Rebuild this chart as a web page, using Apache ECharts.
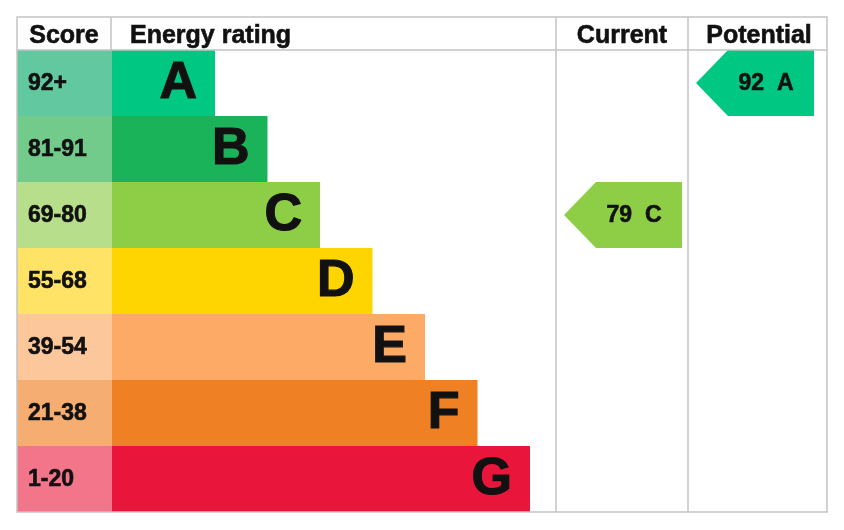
<!DOCTYPE html>
<html>
<head>
<meta charset="utf-8">
<script src="https://cdn.jsdelivr.net/npm/echarts@6/dist/echarts.min.js"></script>
<style>
  html, body { margin: 0; padding: 0; background: #fff; }
  #chart-container { width: 844px; height: 530px; }
</style>
</head>
<body>
<div id="chart-container"></div>
<script>
// EPC bands, top (best) to bottom
var bands = ["A", "B", "C", "D", "E", "F", "G"];
var scoreRanges = ["92+", "81-91", "69-80", "55-68", "39-54", "21-38", "1-20"];
var bandMin = [92, 81, 69, 55, 39, 21, 1];
var headers = ["Score", "Energy rating", "Current", "Potential"];
var currentScore = 79;
var potentialScore = 92;

var barColors = ["#00c781", "#1bb35a", "#8dce46", "#ffd500", "#fcaa65", "#ef8023", "#e9153b"];
var cellColors = ["#62c8a0", "#72cb8b", "#b6de8b", "#ffe367", "#fdc79c", "#f6ad72", "#f3758a"];

var FONT = "'Liberation Sans', Arial, sans-serif";
var LINE = "#c3c3c3";
var INK = "#111";

// layout in grid units (1 unit = 1px here)
var SCORE_W = 95;
var BAR_FIRST = 103;
var BAR_STEP = 52.5;
var columns = [[539, 671], [671, 810]];

function bandOf(score) {
  for (var i = 0; i < bandMin.length; i++) {
    if (score >= bandMin[i]) return i;
  }
  return bandMin.length - 1;
}

function txt(x, y, s, size, align, sw) {
  return {
    x: x, y: y, text: s, fill: INK, font: "bold " + size + "px " + FONT,
    textAlign: align, textVerticalAlign: "middle",
    stroke: INK, lineWidth: sw
  };
}

var dom = document.getElementById("chart-container");
var myChart = echarts.init(dom);

var bandData = bands.map(function (b, i) { return [i, b, scoreRanges[i]]; });
var ratingData = [
  [0, bandOf(currentScore), currentScore, bands[bandOf(currentScore)]],
  [1, bandOf(potentialScore), potentialScore, bands[bandOf(potentialScore)]]
];

function renderBand(params, api) {
  var i = api.value(0);
  var c = api.coord([0, i]);
  var h = api.size([0, 1])[1];
  var y0 = c[1] - h / 2;
  var x0 = c[0];
  var xs = api.coord([SCORE_W, i])[0];
  var xe = api.coord([SCORE_W + BAR_FIRST + BAR_STEP * i, i])[0];
  return {
    type: "group",
    children: [
      { type: "rect", shape: { x: x0, y: y0, width: xs - x0, height: h }, style: { fill: cellColors[i] } },
      { type: "rect", shape: { x: xs, y: y0, width: xe - xs, height: h }, style: { fill: barColors[i] } },
      { type: "text", style: txt(x0 + 11, c[1] + 1, scoreRanges[i], 23, "left", 0.6) },
      { type: "text", style: txt(xe - 18, c[1] + 1, bands[i], 52, "right", 1.2) }
    ]
  };
}

function renderArrow(params, api) {
  var col = columns[api.value(0)];
  var i = api.value(1);
  var c = api.coord([col[0], i]);
  var h = api.size([0, 1])[1];
  var tip = api.coord([col[0] + 8, i])[0];
  var body = tip + h / 2 - 1;
  var right = tip + 118;
  var top = c[1] - h / 2;
  var bot = c[1] + h / 2;
  return {
    type: "group",
    children: [
      { type: "polygon", shape: { points: [[tip, c[1]], [body, top], [right, top], [right, bot], [body, bot]] }, style: { fill: barColors[i] } },
      { type: "text", style: txt(tip + 70, c[1] + 1, api.value(2) + "  " + bands[i], 23, "center", 0.6) }
    ]
  };
}

var L = 17, T = 17, R = 827, B = 512, HB = 50;
function ln(x1, y1, x2, y2) {
  return { type: "line", shape: { x1: x1, y1: y1, x2: x2, y2: y2 }, style: { stroke: LINE, lineWidth: 1.5 }, z: 100 };
}
var graphic = [
  ln(L, HB, R, HB),
  ln(111, T, 111, HB),
  ln(556, T, 556, B),
  ln(688, T, 688, B),
  { type: "rect", shape: { x: L, y: T, width: R - L, height: B - T }, style: { fill: null, stroke: LINE, lineWidth: 1.5 }, z: 100 },
  { type: "text", style: txt(64, 36, headers[0], 25, "center", 0.6), z: 100 },
  { type: "text", style: txt(130, 36, headers[1], 25, "left", 0.6), z: 100 },
  { type: "text", style: txt(622, 36, headers[2], 25, "center", 0.6), z: 100 },
  { type: "text", style: txt(759, 36, headers[3], 25, "center", 0.6), z: 100 }
];

var option = {
  backgroundColor: "#fff",
  animation: false,
  grid: { left: 17, right: 17, top: 50, bottom: 18 },
  xAxis: { type: "value", min: 0, max: 810, show: false },
  yAxis: { type: "category", data: bands, inverse: true, show: false },
  graphic: graphic,
  series: [
    { name: "Bands", type: "custom", renderItem: renderBand, data: bandData, encode: { y: 0 } },
    { name: "Ratings", type: "custom", renderItem: renderArrow, data: ratingData, encode: { y: 1 } }
  ]
};

if (option && typeof option === "object") {
  myChart.setOption(option, true);
}
</script>
</body>
</html>
